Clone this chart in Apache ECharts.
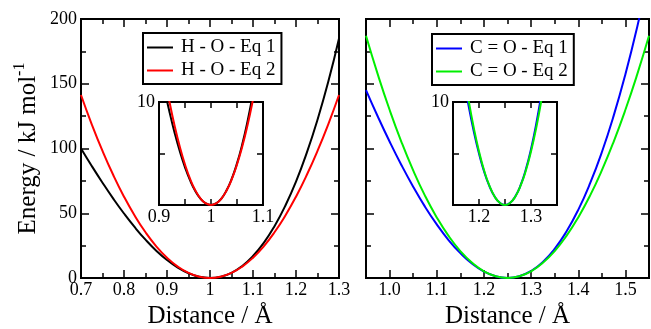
<!DOCTYPE html>
<html><head><meta charset="utf-8">
<script src="https://cdn.jsdelivr.net/npm/echarts@6/dist/echarts.min.js"></script>
<style>html,body{margin:0;padding:0;background:#fff}#c{width:651px;height:329px}</style>
</head><body><div id="c"></div>
<script>
// ---- data ----
const hoX   = [0.7,0.725,0.75,0.775,0.8,0.825,0.85,0.875,0.9,0.925,0.95,0.975,1,1.025,1.05,1.075,1.1,1.125,1.15,1.175,1.2,1.225,1.25,1.275,1.3];
const hoEq1 = [100,86.5,73.6,61.3,49.8,39.2,29.6,21.1,13.9,8.0,3.7,0.9,0,1.0,4.0,9.3,17.0,27.1,40.0,55.7,74.4,96.6,122.2,151.5,185];
const hoEq2 = [141.3,118.7,98.1,79.5,62.8,48.1,35.3,24.5,15.7,8.8,3.9,1.0,0,1.0,3.9,8.8,15.7,24.5,35.3,48.1,62.8,79.5,98.1,118.7,141.3];

const hoInsetX   = [0.9,0.91,0.92,0.93,0.94,0.95,0.96,0.97,0.98,0.99,1,1.01,1.02,1.03,1.04,1.05,1.06,1.07,1.08,1.09,1.1];
const hoInsetEq1 = [13.88,11.36,9.07,7.02,5.21,3.66,2.36,1.34,0.60,0.15,0,0.16,0.63,1.43,2.56,4.04,5.87,8.07,10.65,13.60,16.96];
const hoInsetEq2 = [15.7,12.72,10.05,7.69,5.65,3.93,2.51,1.41,0.63,0.16,0,0.16,0.63,1.41,2.51,3.93,5.65,7.69,10.05,12.72,15.7];

const coX   = [0.95,0.975,1,1.025,1.05,1.075,1.1,1.125,1.15,1.175,1.2,1.225,1.25,1.275,1.3,1.325,1.35,1.375,1.4,1.425,1.45,1.475,1.5,1.525,1.55];
const coEq1 = [145.1,124.7,105.4,87.3,70.5,55.1,41.4,29.3,19.2,11.0,5.0,1.3,0,1.3,5.4,12.4,22.5,35.9,52.6,73.0,97.1,125.2,157.4,193.9,235.0];
const coEq2 = [187.0,157.2,129.9,105.2,83.1,63.6,46.8,32.5,20.8,11.7,5.2,1.3,0,1.3,5.2,11.7,20.8,32.5,46.8,63.6,83.1,105.2,129.9,157.2,187.0];

const coInsetX   = [1.15,1.16,1.17,1.18,1.19,1.2,1.21,1.22,1.23,1.24,1.25,1.26,1.27,1.28,1.29,1.3,1.31,1.32,1.33,1.34,1.35];
const coInsetEq1 = [19.2,15.67,12.48,9.64,7.14,5.0,3.22,1.83,0.82,0.21,0,0.21,0.85,1.92,3.44,5.41,7.86,10.78,14.19,18.09,22.5];
const coInsetEq2 = [20.8,16.83,13.30,10.18,7.48,5.20,3.32,1.87,0.83,0.21,0,0.21,0.83,1.87,3.32,5.20,7.48,10.18,13.30,16.83,20.8];

// tick labels
const hoXTickVals = [0.7,0.8,0.9,1,1.1,1.2,1.3];
const hoXTickText = ['0.7','0.8','0.9','1','1.1','1.2','1.3'];
const coXTickVals = [1.0,1.1,1.2,1.3,1.4,1.5];
const coXTickText = ['1.0','1.1','1.2','1.3','1.4','1.5'];
const eTickVals = [0,50,100,150,200];
const eTickText = ['0','50','100','150','200'];
const hoInsetXVals = [0.9,1,1.1];
const hoInsetXText = ['0.9','1','1.1'];
const coInsetXVals = [1.2,1.3];
const coInsetXText = ['1.2','1.3'];
const insetYVals = [10];
const insetYText = ['10'];

const names = ['H - O - Eq 1','H - O - Eq 2','C = O - Eq 1','C = O - Eq 2'];
const colors = ['#000000','#ff0000','#0000ff','#00ee00'];

// ---- chart ----
const F = 'Liberation Serif';
const zip = (xs, ys) => xs.map((x,i)=>[x, ys[i]]);
const fmt = (vals, txt) => v => { for (let i=0;i<vals.length;i++) if (Math.abs(v-vals[i])<1e-6) return txt[i]; return ''; };

function ax(o){
  const a = {
    type:'value', gridIndex:o.grid, position:o.pos, min:o.min, max:o.max, interval:o.interval,
    axisLine:{show:false, onZero:false},
    splitLine:{show:false},
    axisTick:{show:true, inside:true, length:o.tick, lineStyle:{color:'#000', width:1.5}},
    minorTick:{show:!!o.minor, splitNumber:2, length:o.minor||0, lineStyle:{color:'#000', width:1.5}},
    axisLabel:{show:!!o.labels, formatter:o.labels, color:'#000', fontFamily:F, fontSize:18, margin:o.margin||4, showMinLabel:true, showMaxLabel:true},
    show: o.show !== false
  };
  if (o.custom) a.axisTick.customValues = o.custom;
  if (o.name) {
    a.name = o.name; a.nameLocation='middle'; a.nameGap=o.nameGap;
    a.nameTextStyle = {fontFamily:F, fontSize:25, color:'#000', rich:o.rich};
  }
  return a;
}

const gridBox = {show:true, borderColor:'#000', borderWidth:2, backgroundColor:'transparent', outerBoundsMode:'none'};
const legendBase = {orient:'vertical', icon:'rect', itemWidth:26, itemHeight:2, itemGap:4,
  padding:[5,6,4,4], borderColor:'#000', borderWidth:2, backgroundColor:'#fff', selectedMode:false,
  textStyle:{fontFamily:F, fontSize:19, color:'#000', lineHeight:18, padding:[0,0,0,3]}};
const option = {
  animation:false,
  backgroundColor:'#fff',
  grid:[
    Object.assign({left:81, top:19, width:258, height:259}, gridBox),
    Object.assign({left:366, top:19, width:283, height:259}, gridBox),
    {show:false, left:366, top:19, width:283, height:259, outerBoundsMode:'none'},
    Object.assign({}, gridBox, {left:159, top:102, width:104, height:103, backgroundColor:'#fff'}),
    Object.assign({}, gridBox, {left:453, top:102, width:104, height:103, backgroundColor:'#fff'})
  ],
  xAxis:[
    ax({grid:0,pos:'bottom',min:0.7,max:1.3,interval:0.1,tick:8,minor:5,labels:fmt(hoXTickVals,hoXTickText),margin:3,name:'Distance / Å',nameGap:20}),
    ax({grid:0,pos:'top',min:0.7,max:1.3,interval:0.1,tick:8,minor:5}),
    ax({grid:1,pos:'bottom',min:0.95,max:1.55,interval:0.05,tick:5,labels:fmt(coXTickVals,coXTickText),margin:3,name:'Distance / Å',nameGap:20}),
    ax({grid:1,pos:'top',min:0.95,max:1.55,interval:0.05,tick:5}),
    ax({grid:2,pos:'bottom',min:0.95,max:1.55,interval:0.05,tick:8,custom:coXTickVals}),
    ax({grid:2,pos:'top',min:0.95,max:1.55,interval:0.05,tick:8,custom:coXTickVals}),
    ax({grid:3,pos:'bottom',min:0.9,max:1.1,interval:0.05,tick:6,labels:fmt(hoInsetXVals,hoInsetXText),margin:3}),
    ax({grid:3,pos:'top',min:0.9,max:1.1,interval:0.05,tick:6}),
    ax({grid:4,pos:'bottom',min:1.15,max:1.35,interval:0.05,tick:6,labels:fmt(coInsetXVals,coInsetXText),margin:3}),
    ax({grid:4,pos:'top',min:1.15,max:1.35,interval:0.05,tick:6})
  ],
  yAxis:[
    ax({grid:0,pos:'left',min:0,max:200,interval:50,tick:8,minor:5,labels:fmt(eTickVals,eTickText),margin:4,
        name:'{a|Energy / kJ mol}{b|-1}',nameGap:37,
        rich:{a:{fontFamily:F,fontSize:25,color:'#000'},b:{fontFamily:F,fontSize:16,color:'#000',padding:[0,0,16,0]}}}),
    ax({grid:0,pos:'right',min:0,max:200,interval:50,tick:8,minor:5}),
    ax({grid:1,pos:'left',min:0,max:200,interval:50,tick:8,minor:5}),
    ax({grid:1,pos:'right',min:0,max:200,interval:50,tick:8,minor:5}),
    ax({grid:2,pos:'left',min:0,max:200,interval:50,tick:8,show:false}),
    ax({grid:3,pos:'left',min:0,max:10,interval:5,tick:6,labels:fmt(insetYVals,insetYText),margin:4}),
    ax({grid:3,pos:'right',min:0,max:10,interval:5,tick:6}),
    ax({grid:4,pos:'left',min:0,max:10,interval:5,tick:6,labels:fmt(insetYVals,insetYText),margin:4}),
    ax({grid:4,pos:'right',min:0,max:10,interval:5,tick:6})
  ],
  legend:[
    Object.assign({}, legendBase, {data:[names[0],names[1]], left:143, top:33}),
    Object.assign({}, legendBase, {data:[names[2],names[3]], left:432, top:34})
  ],
  series:[]
};
function line(name, color, xi, yi, data, z){
  return {type:'line', name, xAxisIndex:xi, yAxisIndex:yi, data, smooth:true, symbol:'none', showSymbol:false,
          clip:true, silent:true, z:z, lineStyle:{color, width:2}, itemStyle:{color}};
}
option.series.push(
  line(names[0], colors[0], 0, 0, zip(hoX, hoEq1), 2),
  line(names[1], colors[1], 0, 0, zip(hoX, hoEq2), 3),
  line(names[2], colors[2], 2, 2, zip(coX, coEq1), 2),
  line(names[3], colors[3], 2, 2, zip(coX, coEq2), 3),
  line(names[0], colors[0], 6, 5, zip(hoInsetX, hoInsetEq1), 4),
  line(names[1], colors[1], 6, 5, zip(hoInsetX, hoInsetEq2), 5),
  line(names[2], colors[2], 8, 7, zip(coInsetX, coInsetEq1), 4),
  line(names[3], colors[3], 8, 7, zip(coInsetX, coInsetEq2), 5)
);
const chart = echarts.init(document.getElementById('c'), null, {renderer:'canvas'});
chart.setOption(option);
</script></body></html>
